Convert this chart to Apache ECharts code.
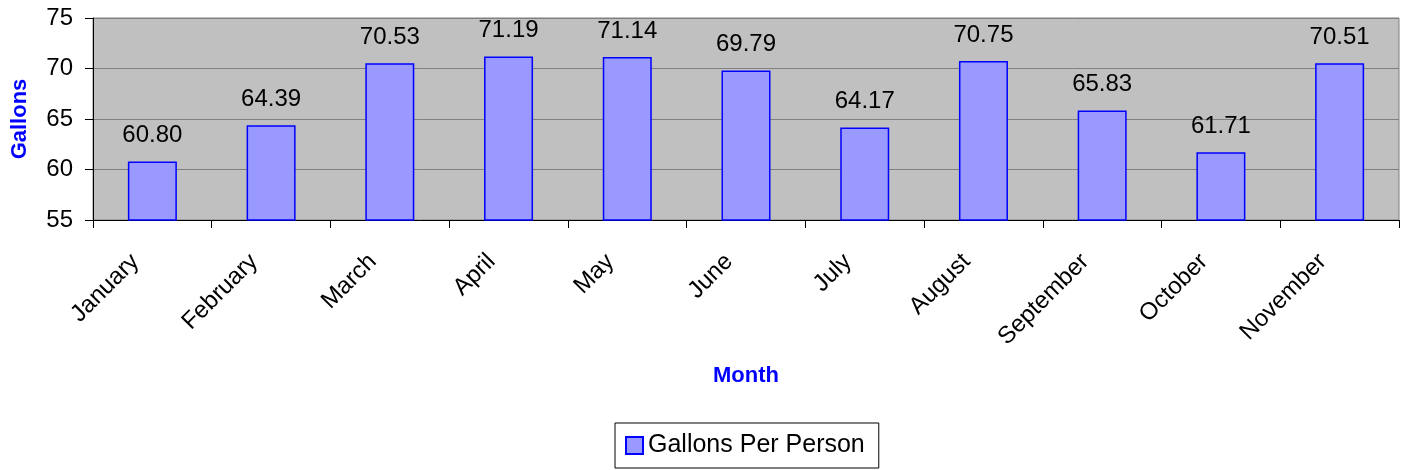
<!DOCTYPE html>
<html>
<head>
<meta charset="utf-8">
<script src="https://cdn.jsdelivr.net/npm/echarts@6/dist/echarts.min.js"></script>
<style>
html,body{margin:0;padding:0;background:#fff;}
#c{width:1408px;height:470px;}
</style>
</head>
<body>
<div id="c"></div>
<script>
const months = ['January','February','March','April','May','June','July','August','September','October','November'];
const gallonsPerPerson = [60.80, 64.39, 70.53, 71.19, 71.14, 69.79, 64.17, 70.75, 65.83, 61.71, 70.51];
const yTicks = {min: 55, max: 75, interval: 5};
const seriesName = 'Gallons Per Person';

const font = '"Liberation Sans", Arial, sans-serif';
const chart = echarts.init(document.getElementById('c'), null, {renderer: 'canvas'});
chart.setOption({
  animation: false,
  backgroundColor: '#ffffff',
  textStyle: {fontFamily: font},
  grid: {
    left: 93, right: 9, top: 18, bottom: 250,
    show: true, backgroundColor: '#C0C0C0', borderColor: '#808080', borderWidth: 1,
    containLabel: false
  },
  legend: {
    show: true,
    left: 615, top: 423,
    orient: 'horizontal',
    padding: [10, 14, 10, 10],
    borderColor: '#000', borderWidth: 1,
    itemWidth: 17, itemHeight: 17,
    icon: 'rect',
    textStyle: {fontFamily: font, fontSize: 25, color: '#000'},
    data: [seriesName]
  },
  xAxis: {
    type: 'category',
    data: months,
    boundaryGap: true,
    name: 'Month',
    nameLocation: 'middle',
    nameGap: 145,
    nameMoveOverlap: false,
    nameTextStyle: {fontFamily: font, fontSize: 22, fontWeight: 'bold', color: '#0000FF'},
    axisLine: {lineStyle: {color: '#000', width: 1}},
    axisTick: {show: true, alignWithLabel: false, length: 8, lineStyle: {color: '#000'}},
    axisLabel: {rotate: 45, margin: 21, padding: [0, 24, 0, 0], fontSize: 24, color: '#000', fontFamily: font, interval: 0},
    splitLine: {show: false}
  },
  yAxis: {
    type: 'value',
    min: yTicks.min, max: yTicks.max, interval: yTicks.interval,
    name: 'Gallons',
    nameLocation: 'middle',
    nameGap: 62,
    nameMoveOverlap: false,
    nameTextStyle: {fontFamily: font, fontSize: 22, fontWeight: 'bold', color: '#0000FF'},
    axisLine: {show: true, lineStyle: {color: '#000', width: 1}},
    axisTick: {show: true, length: 8, lineStyle: {color: '#000'}},
    axisLabel: {fontSize: 24, color: '#000', margin: 20, fontFamily: font},
    splitLine: {show: true, lineStyle: {color: '#808080', width: 1}}
  },
  series: [{
    name: seriesName,
    type: 'bar',
    data: gallonsPerPerson,
    barWidth: 49,
    itemStyle: {color: '#9999FF', borderColor: '#0000FF', borderWidth: 1.5},
    label: {
      show: true, position: 'top', distance: 14,
      formatter: p => p.value.toFixed(2),
      fontSize: 24, color: '#000', fontFamily: font
    }
  }]
});
</script>
</body>
</html>
